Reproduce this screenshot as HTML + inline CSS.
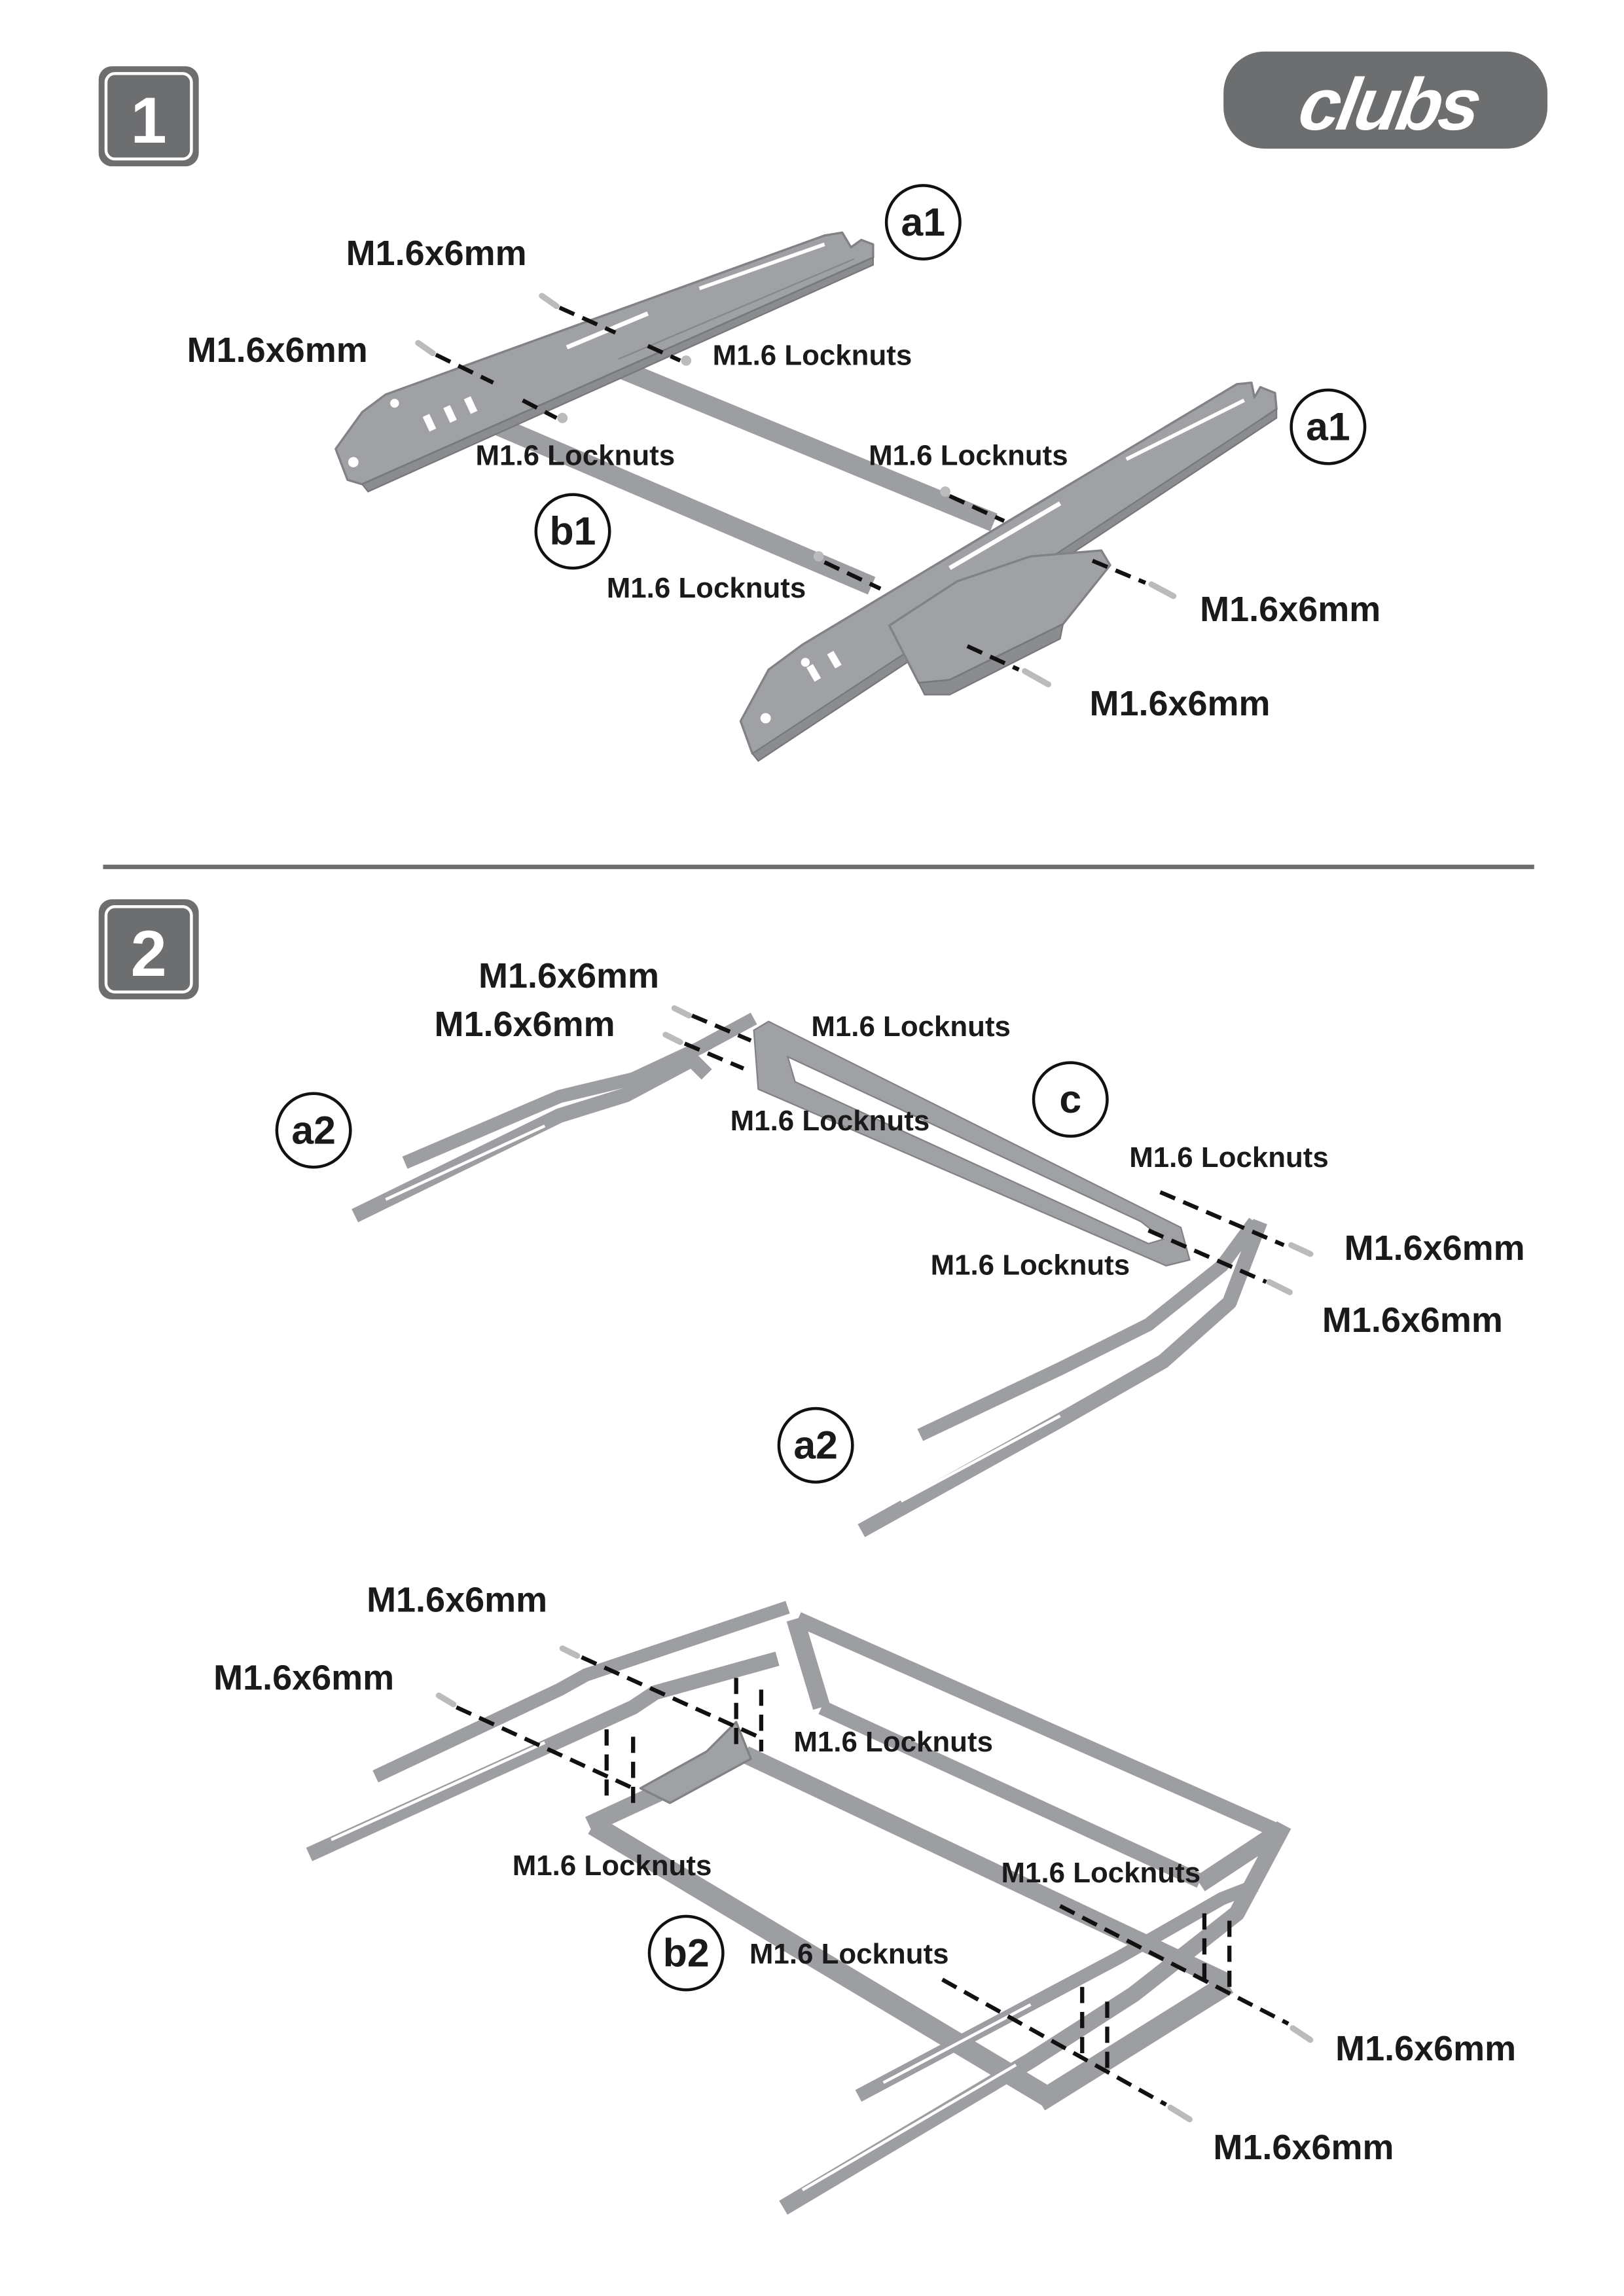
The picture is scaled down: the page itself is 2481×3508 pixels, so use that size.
<!DOCTYPE html>
<html><head><meta charset="utf-8"><style>
html,body{margin:0;padding:0;background:#fff}
svg{display:block}
text{font-family:"Liberation Sans",sans-serif;font-weight:bold;fill:#1a1a1a}
.b{font-size:24px}.l{font-size:19.5px}.c{font-size:27px;text-anchor:middle}
.r{stroke:#9c9ea1;stroke-linecap:butt;stroke-linejoin:round;fill:none}
.p{fill:#9fa1a4;stroke:#808285;stroke-width:1.5;stroke-linejoin:round}
.d{fill:#8a8c8f;stroke:#76787b;stroke-width:1}
.h{fill:#fff}
.k{stroke:#111;stroke-width:2.8;stroke-dasharray:11 6;fill:none}
.s{stroke:#b9bbbd;stroke-width:4;stroke-linecap:round}
</style></head><body>
<svg width="2481" height="3508" viewBox="0 0 1103 1560" preserveAspectRatio="none" xmlns="http://www.w3.org/2000/svg">
<rect width="1103" height="1560" fill="#fff"/>
<rect x="67" y="45" width="68" height="68" rx="9" fill="#6d6e70"/>
<rect x="72" y="50" width="58" height="58" rx="6" fill="none" stroke="#fff" stroke-width="2"/>
<text x="101" y="97" style="font-size:44px;fill:#fff;text-anchor:middle">1</text>
<rect x="67" y="611" width="68" height="68" rx="9" fill="#6d6e70"/>
<rect x="72" y="616" width="58" height="58" rx="6" fill="none" stroke="#fff" stroke-width="2"/>
<text x="101" y="663" style="font-size:44px;fill:#fff;text-anchor:middle">2</text>
<rect x="831" y="35" width="220" height="66" rx="28" fill="#6d6e70"/>
<text x="941" y="88" style="font-size:50px;fill:#fff;text-anchor:middle;font-style:italic;letter-spacing:-2px" transform="skewX(-10) translate(15,0)">clubs</text>
<line x1="70" y1="589" x2="1042" y2="589" stroke="#6d6e70" stroke-width="3"/>

<!-- ===== STEP 1 ===== -->
<line class="r" x1="420" y1="250" x2="675" y2="355" stroke-width="13"/>
<line class="r" x1="335" y1="288" x2="592" y2="398" stroke-width="13"/>
<!-- left rail -->
<polygon class="p" points="228,305 236,326 246,329 593,175 593,166 585,163 578,168 572,158 560,160 262,268 246,280"/>
<polygon class="d" points="246,329 593,175 593,180 250,334"/>
<rect class="h" x="289" y="282" width="5" height="11" transform="rotate(-25 291 287)"/>
<rect class="h" x="303" y="276" width="5" height="11" transform="rotate(-25 305 281)"/>
<rect class="h" x="317" y="270" width="5" height="11" transform="rotate(-25 319 275)"/>
<circle class="h" cx="240" cy="314" r="3.5"/><circle class="h" cx="268" cy="274" r="3"/>
<line x1="385" y1="236" x2="440" y2="213" stroke="#fff" stroke-width="3"/>
<line x1="475" y1="196" x2="560" y2="166" stroke="#fff" stroke-width="2.5"/>
<line x1="420" y1="244" x2="580" y2="176" stroke="#85878a" stroke-width="1"/>
<!-- right rail -->
<polygon class="p" points="503,490 511,512 521,512 867,278 866,267 856,263 852,270 850,260 840,261 545,438 522,455"/>
<polygon class="d" points="511,512 867,278 867,284 515,517"/>
<rect class="h" x="550" y="452" width="5" height="11" transform="rotate(-30 552 457)"/>
<rect class="h" x="564" y="443" width="5" height="11" transform="rotate(-30 566 448)"/>
<circle class="h" cx="520" cy="488" r="3.5"/><circle class="h" cx="547" cy="450" r="3"/>
<line x1="645" y1="386" x2="720" y2="342" stroke="#fff" stroke-width="3"/>
<line x1="765" y1="312" x2="845" y2="272" stroke="#fff" stroke-width="2.5"/>
<!-- bracket -->
<polygon class="p" points="604,425 650,395 700,378 748,374 754,384 722,424 645,462 624,464"/>
<polygon class="d" points="624,464 645,462 722,424 720,434 645,472 628,472"/>
<line class="s" x1="368" y1="201" x2="378" y2="208"/><line class="s" x1="284" y1="233" x2="294" y2="240"/>
<line class="s" x1="782" y1="397" x2="797" y2="405"/><line class="s" x1="696" y1="456" x2="712" y2="465"/>
<circle cx="466" cy="245" r="3.5" fill="#b9bbbd"/><circle cx="382" cy="284" r="3.5" fill="#b9bbbd"/>
<circle cx="642" cy="334" r="3.5" fill="#b9bbbd"/><circle cx="556" cy="378" r="3.5" fill="#b9bbbd"/>
<line class="k" x1="380" y1="209" x2="418" y2="226"/>
<line class="k" x1="296" y1="241" x2="335" y2="260"/>
<line class="k" x1="440" y1="235" x2="462" y2="245"/>
<line class="k" x1="355" y1="272" x2="378" y2="284"/>
<line class="k" x1="645" y1="337" x2="682" y2="354"/>
<line class="k" x1="560" y1="382" x2="598" y2="400"/>
<line class="k" x1="742" y1="381" x2="778" y2="396"/>
<line class="k" x1="657" y1="439" x2="692" y2="455"/>
<text class="b" x="235" y="180">M1.6x6mm</text>
<text class="b" x="127" y="246">M1.6x6mm</text>
<text class="l" x="484" y="248">M1.6 Locknuts</text>
<text class="l" x="323" y="316">M1.6 Locknuts</text>
<text class="l" x="590" y="316">M1.6 Locknuts</text>
<text class="l" x="412" y="406">M1.6 Locknuts</text>
<text class="b" x="815" y="422">M1.6x6mm</text>
<text class="b" x="740" y="486">M1.6x6mm</text>
<g fill="#fff" stroke="#111" stroke-width="2"><circle cx="627" cy="151" r="25"/><circle cx="902" cy="290" r="25"/><circle cx="389" cy="361" r="25"/></g>
<text class="c" x="627" y="160">a1</text><text class="c" x="902" y="299">a1</text><text class="c" x="389" y="370">b1</text>

<!-- ===== STEP 2 upper ===== -->
<polyline class="r" points="275,790 380,745 430,733 475,712 512,692" stroke-width="9"/>
<polyline class="r" points="241,826 380,758 425,744 470,720 480,730" stroke-width="10"/>
<line x1="262" y1="815" x2="370" y2="765" stroke="#fff" stroke-width="2"/>
<path fill-rule="evenodd" fill="#9fa1a4" stroke="#808285" stroke-width="1" d="M512,700 L522,694 L802,834 L808,856 L792,860 L515,740 Z M535,718 L540,735 L780,845 L790,842 L775,830 Z"/>
<polyline class="r" points="625,975 720,930 780,900 830,860 852,830" stroke-width="9"/>
<polyline class="r" points="585,1040 720,965 790,925 835,885 856,830" stroke-width="10"/>
<line x1="612" y1="1020" x2="720" y2="962" stroke="#fff" stroke-width="2"/>
<line class="s" x1="458" y1="685" x2="468" y2="690"/><line class="s" x1="452" y1="703" x2="462" y2="708"/>
<line class="s" x1="877" y1="846" x2="890" y2="852"/><line class="s" x1="862" y1="871" x2="876" y2="878"/>
<line class="k" x1="470" y1="690" x2="510" y2="707"/><line class="k" x1="465" y1="709" x2="505" y2="726"/>
<line class="k" x1="788" y1="810" x2="872" y2="846"/><line class="k" x1="780" y1="836" x2="860" y2="871"/>
<text class="b" x="325" y="671">M1.6x6mm</text>
<text class="b" x="295" y="704">M1.6x6mm</text>
<text class="l" x="551" y="704">M1.6 Locknuts</text>
<text class="l" x="496" y="768">M1.6 Locknuts</text>
<text class="l" x="767" y="793">M1.6 Locknuts</text>
<text class="l" x="632" y="866">M1.6 Locknuts</text>
<text class="b" x="913" y="856">M1.6x6mm</text>
<text class="b" x="898" y="905">M1.6x6mm</text>
<g fill="#fff" stroke="#111" stroke-width="2"><circle cx="213" cy="768" r="25"/><circle cx="727" cy="747" r="25"/><circle cx="554" cy="982" r="25"/></g>
<text class="c" x="213" y="777">a2</text><text class="c" x="727" y="756">c</text><text class="c" x="554" y="991">a2</text>

<!-- ===== STEP 2 lower ===== -->
<line class="r" x1="403" y1="1240" x2="712" y2="1425" stroke-width="14"/>
<line class="r" x1="506" y1="1192" x2="834" y2="1347" stroke-width="12"/>
<line class="r" x1="400" y1="1240" x2="508" y2="1190" stroke-width="12"/>
<line class="r" x1="706" y1="1428" x2="834" y2="1348" stroke-width="14"/>
<polygon class="p" points="435,1215 480,1190 500,1170 510,1195 455,1225"/>
<line x1="520" y1="1210" x2="720" y2="1318" stroke="#fff" stroke-width="2"/>
<line class="r" x1="542" y1="1100" x2="870" y2="1245" stroke-width="10"/>
<line class="r" x1="558" y1="1160" x2="815" y2="1278" stroke-width="10"/>
<line class="r" x1="540" y1="1100" x2="558" y2="1160" stroke-width="12"/>
<line class="r" x1="868" y1="1245" x2="815" y2="1280" stroke-width="12"/>
<polyline class="r" points="255,1207 380,1148 398,1138 535,1092" stroke-width="9"/>
<polyline class="r" points="210,1260 430,1160 445,1150 528,1127" stroke-width="10"/>
<line x1="225" y1="1250" x2="370" y2="1184" stroke="#fff" stroke-width="2"/>
<line x1="290" y1="1200" x2="370" y2="1162" stroke="#fff" stroke-width="2"/>
<polyline class="r" points="583,1424 760,1330 830,1290 853,1281" stroke-width="9"/>
<polyline class="r" points="532,1500 700,1400 770,1355 840,1300 872,1240" stroke-width="11"/>
<line x1="545" y1="1488" x2="690" y2="1403" stroke="#fff" stroke-width="2"/>
<line x1="600" y1="1415" x2="700" y2="1362" stroke="#fff" stroke-width="2"/>
<line class="s" x1="382" y1="1120" x2="392" y2="1125"/><line class="s" x1="298" y1="1152" x2="308" y2="1158"/>
<line class="s" x1="878" y1="1378" x2="890" y2="1386"/><line class="s" x1="795" y1="1432" x2="808" y2="1440"/>
<line class="k" x1="395" y1="1126" x2="515" y2="1180"/><line class="k" x1="310" y1="1160" x2="430" y2="1215"/>
<line class="k" x1="412" y1="1175" x2="412" y2="1222"/><line class="k" x1="430" y1="1180" x2="430" y2="1230"/>
<line class="k" x1="500" y1="1140" x2="500" y2="1185"/><line class="k" x1="517" y1="1148" x2="517" y2="1190"/>
<line class="k" x1="720" y1="1295" x2="875" y2="1375"/><line class="k" x1="640" y1="1345" x2="792" y2="1430"/>
<line class="k" x1="818" y1="1300" x2="818" y2="1345"/><line class="k" x1="835" y1="1305" x2="835" y2="1350"/>
<line class="k" x1="735" y1="1350" x2="735" y2="1398"/><line class="k" x1="752" y1="1360" x2="752" y2="1405"/>
<text class="b" x="249" y="1095">M1.6x6mm</text>
<text class="b" x="145" y="1148">M1.6x6mm</text>
<text class="l" x="539" y="1190">M1.6 Locknuts</text>
<text class="l" x="348" y="1274">M1.6 Locknuts</text>
<text class="l" x="680" y="1279">M1.6 Locknuts</text>
<text class="l" x="509" y="1334">M1.6 Locknuts</text>
<text class="b" x="907" y="1400">M1.6x6mm</text>
<text class="b" x="824" y="1467">M1.6x6mm</text>
<circle cx="466" cy="1327" r="25" fill="#fff" stroke="#111" stroke-width="2"/>
<text class="c" x="466" y="1336">b2</text>
</svg>
</body></html>
